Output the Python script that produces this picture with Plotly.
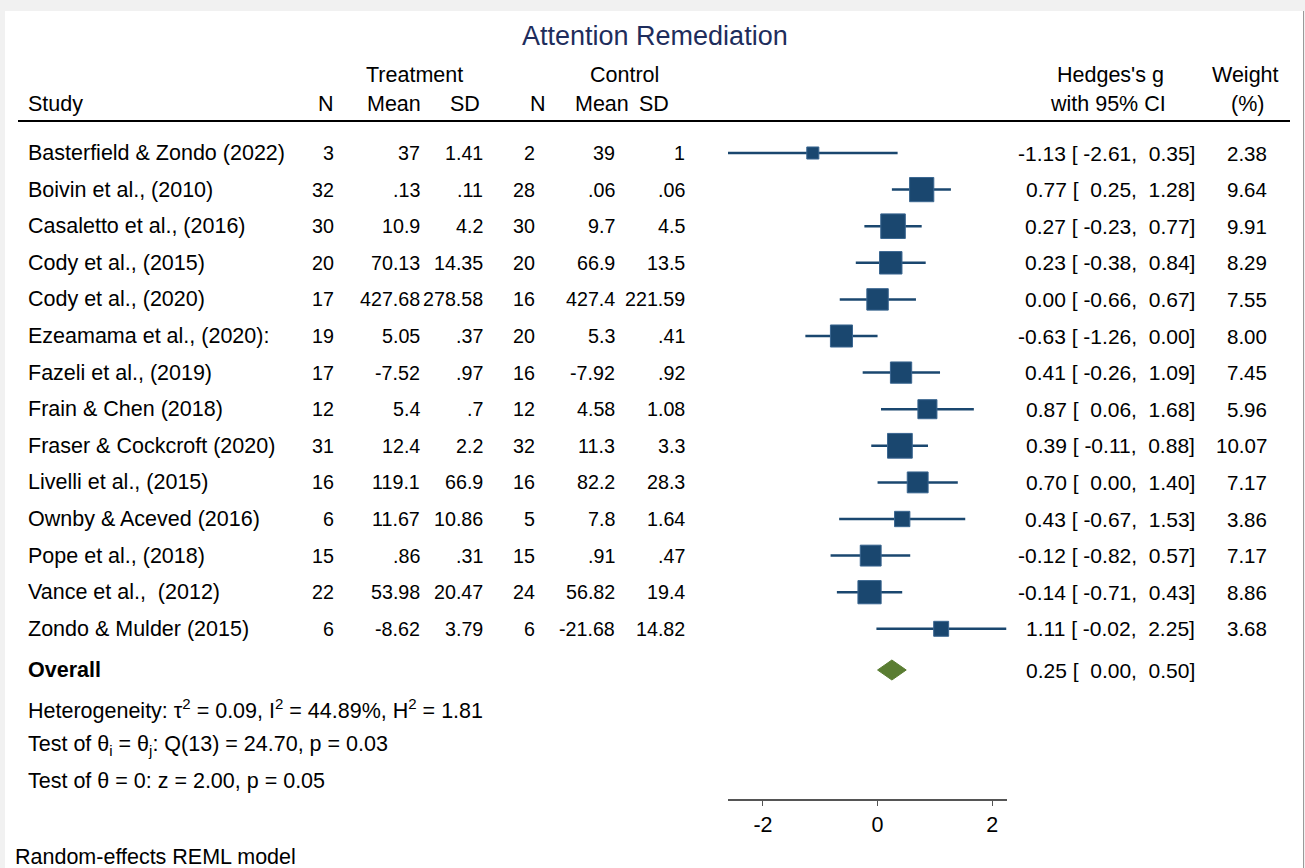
import math
import plotly.graph_objects as go

# ---- study-level data -------------------------------------------------------
studies = [
    "Basterfield & Zondo (2022)", "Boivin et al., (2010)", "Casaletto et al., (2016)",
    "Cody et al., (2015)", "Cody et al., (2020)", "Ezeamama et al., (2020):",
    "Fazeli et al., (2019)", "Frain & Chen (2018)", "Fraser & Cockcroft (2020)",
    "Livelli et al., (2015)", "Ownby & Aceved (2016)", "Pope et al., (2018)",
    "Vance et al.,  (2012)", "Zondo & Mulder (2015)",
]
treat_n = ["3", "32", "30", "20", "17", "19", "17", "12", "31", "16", "6", "15", "22", "6"]
treat_mean = ["37", ".13", "10.9", "70.13", "427.68", "5.05", "-7.52", "5.4", "12.4",
              "119.1", "11.67", ".86", "53.98", "-8.62"]
treat_sd = ["1.41", ".11", "4.2", "14.35", "278.58", ".37", ".97", ".7", "2.2",
            "66.9", "10.86", ".31", "20.47", "3.79"]
ctrl_n = ["2", "28", "30", "20", "16", "20", "16", "12", "32", "16", "5", "15", "24", "6"]
ctrl_mean = ["39", ".06", "9.7", "66.9", "427.4", "5.3", "-7.92", "4.58", "11.3",
             "82.2", "7.8", ".91", "56.82", "-21.68"]
ctrl_sd = ["1", ".06", "4.5", "13.5", "221.59", ".41", ".92", "1.08", "3.3",
           "28.3", "1.64", ".47", "19.4", "14.82"]
hedges_g = [-1.13, 0.77, 0.27, 0.23, 0.00, -0.63, 0.41, 0.87, 0.39, 0.70, 0.43, -0.12, -0.14, 1.11]
ci_low = [-2.61, 0.25, -0.23, -0.38, -0.66, -1.26, -0.26, 0.06, -0.11, 0.00, -0.67, -0.82, -0.71, -0.02]
ci_high = [0.35, 1.28, 0.77, 0.84, 0.67, 0.00, 1.09, 1.68, 0.88, 1.40, 1.53, 0.57, 0.43, 2.25]
weights = [2.38, 9.64, 9.91, 8.29, 7.55, 8.00, 7.45, 5.96, 10.07, 7.17, 3.86, 7.17, 8.86, 3.68]

overall_g = 0.25
overall_low = 0.00
overall_high = 0.50

x_ticks = [-2, 0, 2]

# ---- layout constants (pixels) ---------------------------------------------
W, H = 1305, 868
ROW0, ROW_H = 153, 36.6          # centre of first study row, row spacing
NAVY = "#1a476f"
GREEN = "#5a7d32"
FONT = "Liberation Sans, Arial, sans-serif"
FS = 21.5        # labels and study names
FS_NUM = 19.7    # numeric table columns
FS_CI = 21       # effect size column
FS_W = 20.5      # weight column


def px_x(p):
    return p / W


def px_y(p):
    return 1 - p / H


def row_of(p):
    return (p - ROW0) / ROW_H


def fmt_ci(g, lo, hi):
    s = f"{g:.2f} [{lo:6.2f},{hi:6.2f}]"
    return s.replace(" ", "\u00a0")


fig = go.Figure()

rows = list(range(len(studies)))

# confidence-interval whiskers
for r, lo, hi in zip(rows, ci_low, ci_high):
    fig.add_trace(go.Scatter(
        x=[lo, hi], y=[r, r], mode="lines",
        line=dict(color=NAVY, width=2.5), hoverinfo="skip", showlegend=False,
        cliponaxis=False,
    ))

# weight-scaled squares
fig.add_trace(go.Scatter(
    x=hedges_g, y=rows, mode="markers",
    marker=dict(symbol="square", color=NAVY, opacity=1,
                size=[7.8 * math.sqrt(w) for w in weights],
                line=dict(color="#3a6690", width=1)),
    showlegend=False, cliponaxis=False,
))

# overall diamond
r_ov = row_of(670)
half_h = 10 / ROW_H
fig.add_trace(go.Scatter(
    x=[overall_low, overall_g, overall_high, overall_g, overall_low],
    y=[r_ov, r_ov - half_h, r_ov, r_ov + half_h, r_ov],
    mode="lines", fill="toself", fillcolor=GREEN,
    line=dict(color=GREEN, width=1), showlegend=False, cliponaxis=False,
))

ann = []


def txt(x, y, text, anchor="right", yref="y", size=FS, color="black"):
    ann.append(dict(
        x=x, y=y, xref="paper", yref=yref, text=text, showarrow=False,
        xanchor=anchor, yanchor="middle", borderpad=0,
        font=dict(family=FONT, size=size, color=color),
    ))


# table body
cols = [
    (treat_n, 335), (treat_mean, 421), (treat_sd, 484),
    (ctrl_n, 536), (ctrl_mean, 616), (ctrl_sd, 686),
]
for r in rows:
    txt(px_x(27), r, studies[r], anchor="left")
    for values, right in cols:
        txt(px_x(right), r, values[r], size=FS_NUM)
    txt(px_x(1196), r, fmt_ci(hedges_g[r], ci_low[r], ci_high[r]), size=FS_CI)
    txt(px_x(1268), r, f"{weights[r]:.2f}", size=FS_W)

# overall row
txt(px_x(27), r_ov, "<b>Overall</b>", anchor="left")
txt(px_x(1196), r_ov, fmt_ci(overall_g, overall_low, overall_high), size=FS_CI)

# headers
txt(px_x(655), px_y(36), "Attention Remediation", anchor="center", yref="paper",
    size=27, color="#1e2d5c")
txt(px_x(414), px_y(75), "Treatment", anchor="center", yref="paper")
txt(px_x(624), px_y(75), "Control", anchor="center", yref="paper")
txt(px_x(1110), px_y(75), "Hedges's g", anchor="center", yref="paper")
txt(px_x(1245), px_y(75), "Weight", anchor="center", yref="paper")
txt(px_x(27), px_y(104), "Study", anchor="left", yref="paper")
for label, right in [("N", 335), ("Mean", 422), ("SD", 481), ("N", 547), ("Mean", 630), ("SD", 670)]:
    txt(px_x(right), px_y(104), label, yref="paper")
txt(px_x(1108), px_y(104), "with 95% CI", anchor="center", yref="paper")
txt(px_x(1247), px_y(104), "(%)", anchor="center", yref="paper")

# footer statistics
txt(px_x(27), px_y(709),
    "Heterogeneity: \u03c4<sup>2</sup> = 0.09, I<sup>2</sup> = 44.89%, H<sup>2</sup> = 1.81",
    anchor="left", yref="paper")
txt(px_x(27), px_y(745),
    "Test of \u03b8<sub>i</sub> = \u03b8<sub>j</sub>: Q(13) = 24.70, p = 0.03",
    anchor="left", yref="paper")
txt(px_x(27), px_y(781), "Test of \u03b8 = 0: z = 2.00, p = 0.05", anchor="left", yref="paper")
txt(px_x(14), px_y(857), "Random-effects REML model", anchor="left", yref="paper")

shapes = [
    # white graph region inside the light grey frame
    dict(type="rect", xref="paper", yref="paper", x0=px_x(5), x1=px_x(1303),
         y0=0, y1=px_y(11), fillcolor="white", line=dict(width=0), layer="below"),
    dict(type="line", xref="paper", yref="paper", x0=px_x(1303.5), x1=px_x(1303.5),
         y0=0, y1=px_y(11), line=dict(color="#9a9a9a", width=1)),
    # header rule
    dict(type="line", xref="paper", yref="paper", x0=px_x(18), x1=px_x(1290),
         y0=px_y(121), y1=px_y(121), line=dict(color="black", width=2)),
]

fig.update_layout(
    width=W, height=H,
    margin=dict(l=0, r=0, t=0, b=0),
    paper_bgcolor="#f1f1f1",
    plot_bgcolor="rgba(0,0,0,0)",
    showlegend=False,
    annotations=ann,
    shapes=shapes,
    xaxis=dict(
        domain=[px_x(728), px_x(1006.5)],
        range=[min(ci_low), max(ci_high)],
        anchor="free", position=px_y(800),
        showline=True, linecolor="#555555", linewidth=1.5,
        ticks="outside", ticklen=5, tickwidth=1.2, tickcolor="#555555",
        tickvals=x_ticks, ticktext=[str(t) for t in x_ticks],
        tickfont=dict(family=FONT, size=FS, color="black"),
        showgrid=False, zeroline=False, fixedrange=True,
    ),
    yaxis=dict(
        domain=[0, 1],
        range=[(H - ROW0) / ROW_H, -ROW0 / ROW_H],
        visible=False, showgrid=False, zeroline=False, fixedrange=True,
    ),
)

fig.write_html("out.html")
